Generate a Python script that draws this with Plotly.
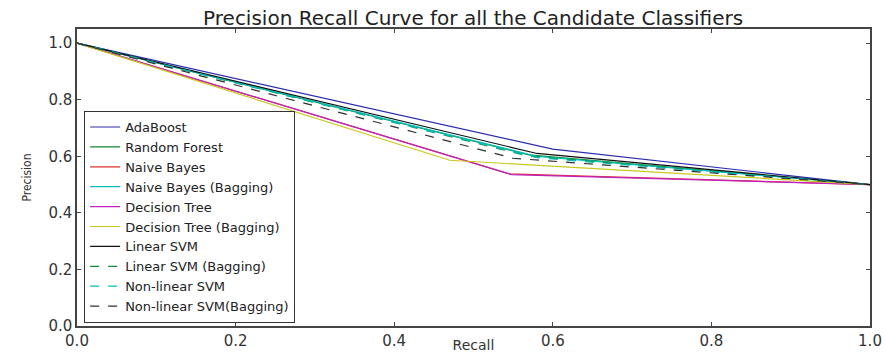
import plotly.graph_objects as go

# Data (recall, precision) per classifier
names = ["AdaBoost", "Random Forest", "Naive Bayes", "Naive Bayes (Bagging)",
         "Decision Tree", "Decision Tree (Bagging)", "Linear SVM",
         "Linear SVM (Bagging)", "Non-linear SVM", "Non-linear SVM(Bagging)"]

ada_recall = [0.0, 0.60, 1.0]
ada_precision = [1.0, 0.625, 0.5]
rf_recall = [0.0, 0.57, 1.0]
rf_precision = [1.0, 0.605, 0.5]
nb_recall = [0.0, 0.545, 1.0]
nb_precision = [1.0, 0.538, 0.5]
nbb_recall = [0.0, 0.58, 1.0]
nbb_precision = [1.0, 0.60, 0.5]
dt_recall = [0.0, 0.548, 1.0]
dt_precision = [1.0, 0.535, 0.5]
dtb_recall = [0.0, 0.47, 1.0]
dtb_precision = [1.0, 0.586, 0.5]
lsvm_recall = [0.0, 0.58, 1.0]
lsvm_precision = [1.0, 0.61, 0.5]
lsvmb_recall = [0.0, 0.57, 1.0]
lsvmb_precision = [1.0, 0.60, 0.5]
nlsvm_recall = [0.0, 0.58, 1.0]
nlsvm_precision = [1.0, 0.595, 0.5]
nlsvmb_recall = [0.0, 0.55, 1.0]
nlsvmb_precision = [1.0, 0.593, 0.5]

recalls = [ada_recall, rf_recall, nb_recall, nbb_recall, dt_recall, dtb_recall,
           lsvm_recall, lsvmb_recall, nlsvm_recall, nlsvmb_recall]
precisions = [ada_precision, rf_precision, nb_precision, nbb_precision, dt_precision,
              dtb_precision, lsvm_precision, lsvmb_precision, nlsvm_precision, nlsvmb_precision]

colors = ["#2b2bb0", "#108a30", "#e03030", "#00bfbf", "#bf20bf", "#c8c820",
          "#101010", "#108a30", "#00bfbf", "#303030"]
dashes = ["solid"] * 7 + ["dash"] * 3

tick_vals = [0.0, 0.2, 0.4, 0.6, 0.8, 1.0]
tick_text = ["0.0", "0.2", "0.4", "0.6", "0.8", "1.0"]

fig = go.Figure()
for n, r, p, c, d in zip(names, recalls, precisions, colors, dashes):
    fig.add_trace(go.Scatter(x=r, y=p, mode="lines", name=n,
                             line=dict(color=c, width=1.2, dash=d)))

axis_common = dict(showgrid=False, zeroline=False, showline=True, linecolor="#444",
                   linewidth=1.5, mirror="ticks", ticks="inside", ticklen=4,
                   tickcolor="#444", tickvals=tick_vals, ticktext=tick_text,
                   tickfont=dict(family="DejaVu Sans", size=15, color="#333"))

fig.update_layout(
    width=886, height=353,
    margin=dict(l=77, r=16, t=29, b=27, autoexpand=False),
    paper_bgcolor="white", plot_bgcolor="white",
    title=dict(text="Precision Recall Curve for all the Candidate Classifiers",
               x=0.534, xanchor="center", yref="container", y=0.948, yanchor="middle",
               font=dict(family="DejaVu Sans", size=20, color="#222")),
    xaxis=dict(range=[0, 1], title=dict(text="Recall", standoff=6,
               font=dict(family="DejaVu Sans", size=14, color="#333")), **axis_common),
    yaxis=dict(range=[0, 1.05], title=dict(text="Precision", standoff=14,
               font=dict(family="DejaVu Sans Condensed", size=12, color="#333")), **axis_common),
    legend=dict(x=0.009, y=0.01, xanchor="left", yanchor="bottom",
                bgcolor="white", bordercolor="#333", borderwidth=1,
                font=dict(family="DejaVu Sans", size=13, color="#222"),
                tracegroupgap=0, itemwidth=30),
    showlegend=True,
)

fig.write_html("out.html")
